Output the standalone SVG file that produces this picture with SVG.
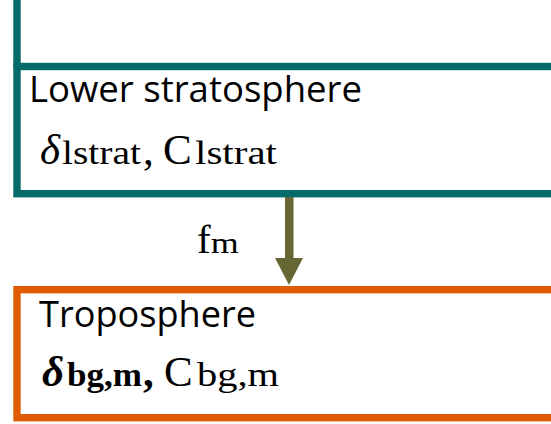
<svg xmlns="http://www.w3.org/2000/svg" width="551" height="424" viewBox="0 0 551 424">
<style>
.teal{fill:none;stroke:#046a6a;stroke-width:7.4}
.orange{fill:none;stroke:#e05c00;stroke-width:7.4}
.lbl{font-family:"Open Sans","Liberation Sans",sans-serif;font-size:36px;fill:#000}
.math{font-family:"Liberation Serif","DejaVu Serif",serif;fill:#000}
.big{font-size:43px}
.sub{font-size:33px}
</style>
<rect width="551" height="424" fill="#fff"/>
<g id="lower-stratosphere">
<line class="teal" x1="17" y1="0" x2="17" y2="66.5"/>
<rect class="teal" x="17" y="66.5" width="600" height="127.2"/>
<text class="lbl" x="29" y="102" textLength="333" lengthAdjust="spacingAndGlyphs">Lower stratosphere</text>
<text class="math" y="164"><tspan class="big" x="40" font-style="italic">δ</tspan><tspan class="sub" x="62" textLength="79" lengthAdjust="spacingAndGlyphs">lstrat</tspan><tspan class="big" x="143">,</tspan><tspan class="big" x="163">C</tspan><tspan class="sub" x="195" textLength="82" lengthAdjust="spacingAndGlyphs">lstrat</tspan></text>
</g>
<g id="troposphere">
<rect class="orange" x="17" y="289.7" width="600" height="128"/>
<text class="lbl" x="39" y="327" textLength="217" lengthAdjust="spacingAndGlyphs">Troposphere</text>
<text class="math" y="386" font-weight="bold"><tspan class="big" x="42" font-style="italic">δ</tspan><tspan class="sub" x="67" textLength="75" lengthAdjust="spacingAndGlyphs">bg,m</tspan><tspan class="big" x="143">,</tspan><tspan class="big" x="164" font-weight="normal">C</tspan><tspan class="sub" x="197" font-weight="normal" textLength="82" lengthAdjust="spacingAndGlyphs">bg,m</tspan></text>
</g>
<g id="connectors">
<rect x="285" y="197" width="8.5" height="62" fill="#676735"/>
<polygon points="275,258 303,258 289,285" fill="#676735"/>
<text class="math" y="253"><tspan x="197" font-size="41px">f</tspan><tspan font-size="30px" textLength="28" lengthAdjust="spacingAndGlyphs">m</tspan></text>
</g>
</svg>
